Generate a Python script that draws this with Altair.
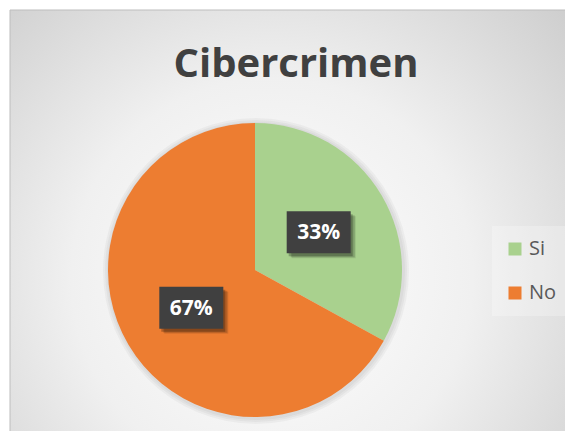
import altair as alt
import pandas as pd

# ---- data ----
categories = ["Si", "No"]
values = [33, 67]
labels = ["33%", "67%"]
colors = ["#A9D18E", "#ED7D31"]
order = [0, 1]
title_text = "Cibercrimen"

df = pd.DataFrame({"cat": categories, "val": values, "label": labels, "order": order})

W, H = 557, 423
CX, CY, R = 247, 262, 147
LR = 74          # radius of data-label centres
BW, BH = 32, 21  # half size of label boxes

dummy = pd.DataFrame({"a": [0]})

# background panel with radial gradient
bg = alt.Chart(dummy).mark_rect(
    fill={
        "gradient": "radial",
        "x1": 0.47, "y1": 0.6, "r1": 0,
        "x2": 0.47, "y2": 0.6, "r2": 0.8,
        "stops": [
            {"offset": 0, "color": "#FFFFFF"},
            {"offset": 0.45, "color": "#F0F0F0"},
            {"offset": 1, "color": "#C6C6C6"},
        ],
    },
    stroke="#BDBDBD",
    strokeWidth=1,
).encode(x=alt.value(2), x2=alt.value(W + 2), y=alt.value(2), y2=alt.value(H + 4))

# soft shadow around the pie
shadows = [
    alt.Chart(dummy).mark_arc(theta=0, theta2=6.2832, radius=R + d, fill="#000000", opacity=0.035)
    .encode(x=alt.value(CX + 1), y=alt.value(CY + 1))
    for d in (6, 4, 2)
]

base = alt.Chart(df)

pie = base.mark_arc(radius=R).encode(
    theta=alt.Theta("val:Q", stack=True),
    color=alt.Color(
        "cat:N",
        scale=alt.Scale(domain=categories, range=colors),
        sort=categories,
        legend=alt.Legend(
            title=None,
            orient="none",
            legendX=484,
            legendY=218,
            symbolType="square",
            symbolSize=169,
            symbolStrokeWidth=0,
            labelFont="Open Sans",
            labelFontSize=20,
            labelColor="#595959",
            labelOffset=4,
            rowPadding=24,
            padding=13,
            fillColor="rgba(255,255,255,0.25)",
        ),
    ),
    order=alt.Order("order:Q"),
    x=alt.value(CX),
    y=alt.value(CY),
)

pos = base.transform_window(
    cum="sum(val)", sort=[alt.SortField("order")], frame=[None, 0]
).transform_joinaggregate(
    total="sum(val)"
).transform_calculate(
    mid="(datum.cum - datum.val/2) / datum.total * 2 * PI",
).transform_calculate(
    px=f"{CX} + {LR} * sin(datum.mid)",
    py=f"{CY} - {LR} * cos(datum.mid)",
).transform_calculate(
    x0=f"datum.px - {BW}", x1=f"datum.px + {BW}",
    y0=f"datum.py - {BH}", y1=f"datum.py + {BH}",
)

def box(dx, dy, color, opacity):
    return pos.transform_calculate(
        sx0=f"datum.x0 + {dx}", sx1=f"datum.x1 + {dx}",
        sy0=f"datum.y0 + {dy}", sy1=f"datum.y1 + {dy}",
    ).mark_rect(fill=color, opacity=opacity).encode(
        x=alt.X("sx0:Q", scale=None), x2="sx1:Q",
        y=alt.Y("sy0:Q", scale=None), y2="sy1:Q",
    )

box_shadows = [box(5, 5, "#000000", 0.10), box(4, 4, "#000000", 0.15), box(2, 3, "#000000", 0.25)]
label_box = box(0, 0, "#404040", 1.0)

label_text = pos.mark_text(
    font="Open Sans", fontSize=21, fontWeight="bold", color="#FFFFFF",
    align="center", baseline="middle", dy=1,
).encode(
    x=alt.X("px:Q", scale=None),
    y=alt.Y("py:Q", scale=None),
    text="label:N",
)

title = alt.Chart(pd.DataFrame({"t": [title_text]})).mark_text(
    font="Open Sans", fontSize=40, fontWeight="bold", color="#404040",
    align="center", baseline="alphabetic",
).encode(x=alt.value(288), y=alt.value(69), text="t:N")

chart = alt.layer(
    bg, *shadows, pie, *box_shadows, label_box, label_text, title
).properties(
    width=W, height=H,
    autosize=alt.AutoSizeParams(type="none"),
    padding=0,
).configure_view(stroke=None)

chart.save("out.html", embed_options={"renderer": "svg", "actions": False})
